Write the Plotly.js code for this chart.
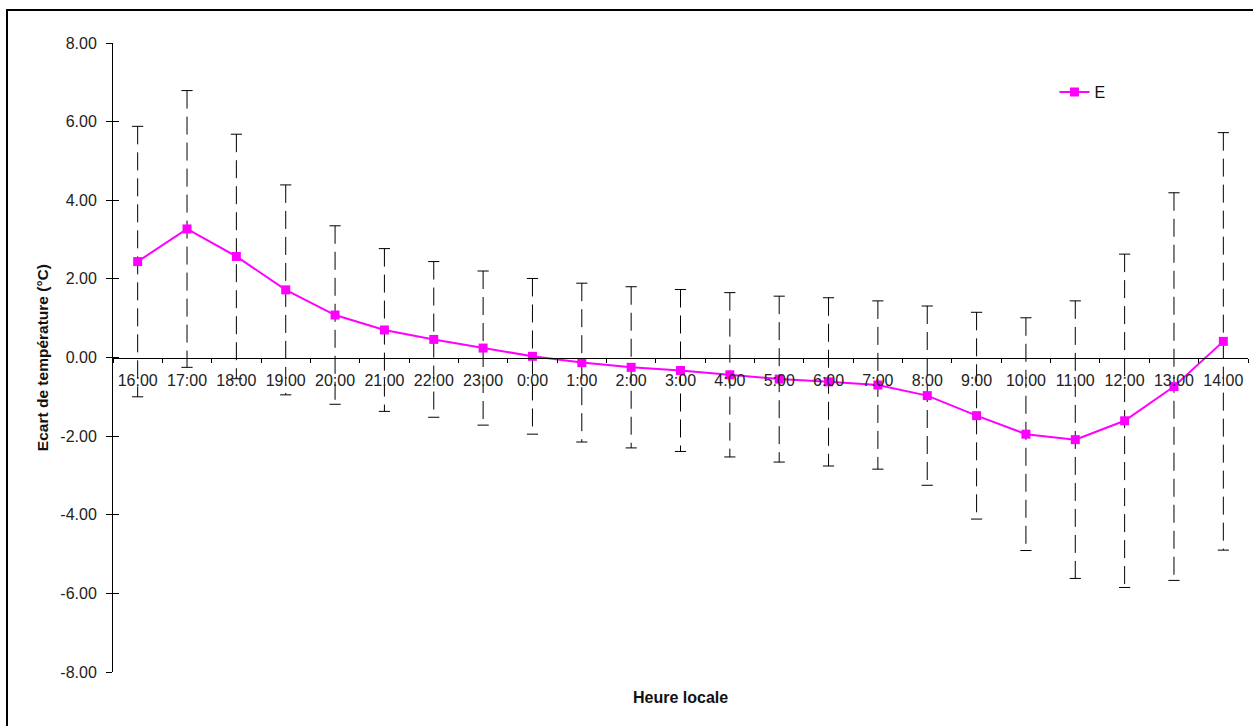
<!DOCTYPE html>
<html>
<head>
<meta charset="utf-8">
<script src="https://cdn.plot.ly/plotly-3.0.1.min.js"></script>
<style>
  html, body { margin: 0; padding: 0; background: #ffffff; }
  #wrap { position: relative; width: 1253px; height: 726px; overflow: hidden; }
  #chart { width: 1253px; height: 726px; }
  #frame { position: absolute; left: 6px; top: 9px; width: 1400px; height: 900px;
           border-left: 2px solid #000; border-top: 2px solid #000; pointer-events: none; }
</style>
</head>
<body>
<div id="wrap">
  <div id="chart"></div>
  <div id="frame"></div>
</div>
<script>
// ---- data ----
const hours = ['16:00','17:00','18:00','19:00','20:00','21:00','22:00','23:00',
               '0:00','1:00','2:00','3:00','4:00','5:00','6:00','7:00',
               '8:00','9:00','10:00','11:00','12:00','13:00','14:00'];
const ecartMoyen = [2.44, 3.27, 2.57, 1.72, 1.08, 0.70, 0.46, 0.24,
                    0.03, -0.13, -0.25, -0.33, -0.44, -0.55, -0.62, -0.70,
                    -0.97, -1.48, -1.95, -2.09, -1.61, -0.74, 0.41];
const ecartType = [3.44, 3.52, 3.11, 2.67, 2.27, 2.07, 1.98, 1.96,
                   1.98, 2.02, 2.05, 2.06, 2.09, 2.11, 2.14, 2.14,
                   2.28, 2.63, 2.96, 3.53, 4.24, 4.93, 5.31];
const seriesName = 'E';
const yTickVals = [-8, -6, -4, -2, 0, 2, 4, 6, 8];
const yTickText = ['-8.00', '-6.00', '-4.00', '-2.00', '0.00', '2.00', '4.00', '6.00', '8.00'];

// ---- build error bar geometry from the data ----
const barX = [], barY = [], capX = [], capY = [];
hours.forEach((h, i) => {
  const lo = ecartMoyen[i] - ecartType[i];
  const hi = ecartMoyen[i] + ecartType[i];
  barX.push(h, h, null);
  barY.push(hi, lo, null);
  capX.push(h, h);
  capY.push(hi, lo);
});

const FONT = '"Liberation Sans", Arial, sans-serif';

const traces = [
  {
    x: barX, y: barY, type: 'scatter', mode: 'lines',
    line: { color: '#000000', width: 1, dash: '18px,8px' },
    hoverinfo: 'skip', showlegend: false, connectgaps: false
  },
  {
    x: capX, y: capY, type: 'scatter', mode: 'markers',
    marker: { symbol: 'line-ew', size: 8, color: '#000000', line: { color: '#000000', width: 1 } },
    hoverinfo: 'skip', showlegend: false
  },
  {
    x: hours, y: ecartMoyen, type: 'scatter', mode: 'lines+markers', name: seriesName,
    line: { color: '#FF00FF', width: 2 },
    marker: { symbol: 'square', size: 9, color: '#FF00FF' }
  }
];

const layout = {
  width: 1253, height: 726,
  margin: { l: 113, r: 5, t: 43, b: 54 },
  paper_bgcolor: '#ffffff', plot_bgcolor: '#ffffff',
  font: { family: FONT, size: 16, color: '#222222' },
  showlegend: true,
  legend: {
    x: 0.8295, y: 0.949, xanchor: 'left', yanchor: 'top',
    bgcolor: 'rgba(0,0,0,0)', borderwidth: 0,
    font: { family: FONT, size: 16, color: '#111111' }
  },
  xaxis: {
    type: 'category', range: [-0.5, 22.5],
    anchor: 'free', position: 0.5,
    showline: true, linecolor: '#000000', linewidth: 1,
    showgrid: false, zeroline: false,
    ticks: 'outside', tickson: 'boundaries', ticklen: 4, tickcolor: '#000000', tickwidth: 1,
    ticklabelstandoff: 8,
    tickfont: { family: FONT, size: 16, color: '#222222' },
    fixedrange: true
  },
  yaxis: {
    range: [-8, 8], tickvals: yTickVals, ticktext: yTickText,
    showline: true, linecolor: '#000000', linewidth: 1,
    showgrid: false, zeroline: false,
    ticks: 'outside', ticklen: 6, tickcolor: '#000000', tickwidth: 1,
    ticklabelstandoff: 6,
    tickfont: { family: FONT, size: 16, color: '#222222' },
    fixedrange: true
  },
  yaxis2: {
    overlaying: 'y', side: 'left', anchor: 'x',
    range: [-8, 8], tickvals: yTickVals,
    showticklabels: false, showline: false, showgrid: false, zeroline: false,
    ticks: 'inside', ticklen: 6, tickcolor: '#000000', tickwidth: 1,
    fixedrange: true
  },
  annotations: [
    {
      text: '<b>Heure locale</b>', xref: 'paper', yref: 'paper',
      x: 0.5, y: -0.041, xanchor: 'center', yanchor: 'middle', showarrow: false,
      font: { family: FONT, size: 16, color: '#111111' }
    },
    {
      text: '<b>Ecart de température (°C)</b>', xref: 'paper', yref: 'paper',
      x: -0.062, y: 0.5, xanchor: 'center', yanchor: 'middle', showarrow: false,
      textangle: -90,
      font: { family: FONT, size: 15.5, color: '#111111' }
    }
  ]
};

// invisible trace so yaxis2 is drawn
traces.push({ x: [hours[0]], y: [0], yaxis: 'y2', type: 'scatter', mode: 'markers',
              marker: { opacity: 0 }, hoverinfo: 'skip', showlegend: false });

Plotly.newPlot('chart', traces, layout, { displayModeBar: false, staticPlot: true });
</script>
</body>
</html>
